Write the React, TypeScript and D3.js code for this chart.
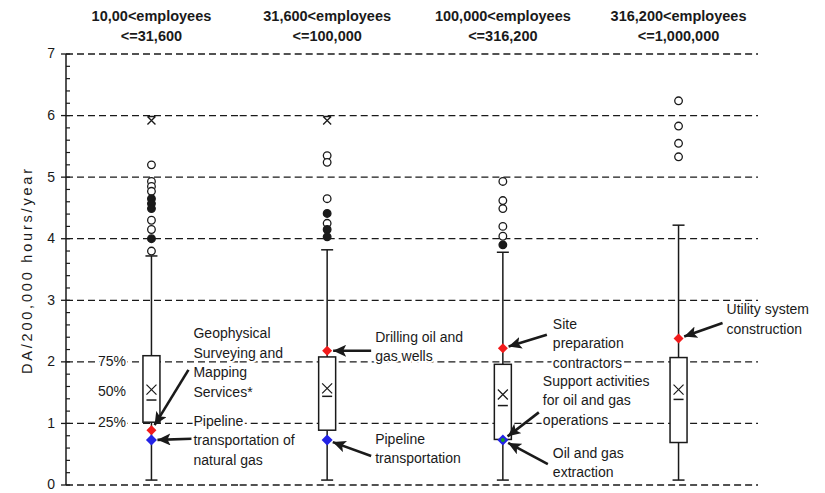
import React, { useEffect, useRef } from 'react';
import * as d3 from 'd3';

// size classes (columns) and their two-line headers
const groups = ["A", "B", "C", "D"];
const headerTop = ["10,00<employees", "31,600<employees", "100,000<employees", "316,200<employees"];
const headerBottom = ["<=31,600", "<=100,000", "<=316,200", "<=1,000,000"];

// box statistics per column (DA / 200,000 hours / year)
const q1 = [1.02, 0.89, 0.74, 0.69];
const q3 = [2.10, 2.08, 1.96, 2.07];
const medians = [1.38, 1.44, 1.29, 1.39];
const means = [1.55, 1.57, 1.47, 1.55];
const whiskerLow = [0.08, 0.08, 0.08, 0.08];
const whiskerHigh = [3.72, 3.82, 3.78, 4.22];

// outliers
const openOutliers = [
  [5.2, 4.93, 4.85, 4.77, 4.30, 4.15, 3.8],
  [5.35, 5.24, 4.65, 4.25],
  [4.93, 4.62, 4.49, 4.2, 4.04],
  [6.24, 5.83, 5.55, 5.33]
];
const filledOutliers = [
  [4.65, 4.57, 4.49, 4.0],
  [4.41, 4.15, 4.03],
  [3.9],
  []
];
const extremes = [5.92, 5.92, null, null];

// highlighted industries
const redPoints = [0.89, 2.18, 2.22, 2.38];
const bluePoints = [0.73, 0.73, 0.73, null];

const yTicks = [0, 1, 2, 3, 4, 5, 6, 7];
const quartileLabels: [string, number][] = [["75%", 2], ["50%", 1.5], ["25%", 1]];

// annotations: text offset from column centre (px) and value of first line,
// arrow start offset (px, value) and which highlighted point it points to
const notes = [
  { col: 0, lines: ["Geophysical", "Surveying and", "Mapping", "Services*"], dx: 42, v: 2.44, from: [37, 1.87], to: "red" },
  { col: 0, lines: ["Pipeline", "transportation of", "natural gas"], dx: 42, v: 1.02, from: [40, 0.75], to: "blue" },
  { col: 1, lines: ["Drilling oil and", "gas wells"], dx: 48, v: 2.39, from: [44, 2.18], to: "red" },
  { col: 1, lines: ["Pipeline", "transportation"], dx: 48, v: 0.73, from: [44, 0.47], to: "blue" },
  { col: 2, lines: ["Site", "preparation", "contractors"], dx: 50, v: 2.60, from: [44, 2.44], to: "red" },
  { col: 2, lines: ["Support activities", "for oil and gas", "operations"], dx: 40, v: 1.67, from: [36, 1.18], to: "blue" },
  { col: 2, lines: ["Oil and gas", "extraction"], dx: 50, v: 0.50, from: [45, 0.34], to: "blue" },
  { col: 3, lines: ["Utility system", "construction"], dx: 48, v: 2.83, from: [44, 2.63], to: "red" }
];

function Chart() {
  const ref = useRef<SVGSVGElement>(null);
  const width = 825;
  const height = 493;

  useEffect(() => {
    const svg = d3.select(ref.current);
    svg.selectAll("*").remove();

    const y = d3.scaleLinear().domain([0, 7]).range([485, 54]);
    const x = d3.scaleBand().domain(groups).range([68, 762]).paddingInner(0.05).paddingOuter(0);
    const cx = (i: number) => (x(groups[i]) as number) + x.bandwidth() / 2;
    const ink = "#1a1a1a";
    const font = "'Liberation Sans', Arial, sans-serif";

    svg.append("defs").append("marker")
      .attr("id", "head")
      .attr("markerUnits", "userSpaceOnUse")
      .attr("markerWidth", 14).attr("markerHeight", 12)
      .attr("refX", 13).attr("refY", 6)
      .attr("orient", "auto")
      .append("path").attr("d", "M0,0 L13,6 L0,12 L3,6 Z").attr("fill", ink);

    // dashed gridlines, one segment per column
    const grid = svg.append("g");
    groups.forEach(g => {
      const x0 = x(g) as number;
      grid.selectAll(null).data(yTicks).join("line")
        .attr("x1", g === groups[0] ? 66 : x0 - 4)
        .attr("x2", x0 + x.bandwidth() + (g === groups[3] ? -4 : 4))
        .attr("y1", d => y(d)).attr("y2", d => y(d))
        .attr("stroke", ink).attr("stroke-width", 1.3)
        .attr("stroke-dasharray", "7 4");
    });

    // y axis
    const ax = svg.append("g");
    ax.append("line").attr("x1", 66).attr("x2", 66).attr("y1", y(0)).attr("y2", y(7))
      .attr("stroke", ink).attr("stroke-width", 1.5);
    ax.selectAll(".minor").data(d3.range(0, 7.01, 0.2)).join("line")
      .attr("x1", 66).attr("x2", 70)
      .attr("y1", d => y(d)).attr("y2", d => y(d))
      .attr("stroke", ink).attr("stroke-width", 1.2);
    ax.selectAll(".major").data(yTicks).join("line")
      .attr("x1", 61).attr("x2", 66)
      .attr("y1", d => y(d)).attr("y2", d => y(d))
      .attr("stroke", ink).attr("stroke-width", 1.3);
    ax.selectAll("text").data(yTicks).join("text")
      .attr("x", 55).attr("y", d => y(d)).attr("dy", "0.32em")
      .attr("text-anchor", "end")
      .attr("font-size", 14).attr("font-family", font).attr("fill", ink)
      .text(d => d);

    svg.append("text")
      .attr("transform", `translate(32,${(y(0) + y(7)) / 2 + 2}) rotate(-90)`)
      .attr("text-anchor", "middle")
      .attr("font-size", 14.5).attr("font-family", font).attr("fill", ink)
      .attr("textLength", 205).attr("lengthAdjust", "spacing")
      .text("DA/200,000 hours/year");

    // headers
    const head = svg.append("g").attr("font-family", font).attr("font-size", 14.5)
      .attr("font-weight", "bold").attr("fill", ink).attr("text-anchor", "middle");
    groups.forEach((g, i) => {
      head.append("text").attr("x", cx(i)).attr("y", 21).text(headerTop[i]);
      head.append("text").attr("x", cx(i)).attr("y", 41).text(headerBottom[i]);
    });

    // text with a white halo so dashes stop behind it
    const halo = (sel: any) => sel
      .attr("font-family", font).attr("font-size", 14).attr("fill", ink)
      .attr("stroke", "white").attr("stroke-width", 4).attr("paint-order", "stroke")
      .attr("dominant-baseline", "middle");

    svg.append("g").selectAll("text").data(quartileLabels).join("text")
      .call(halo)
      .attr("x", 98).attr("y", d => y(d[1]))
      .text(d => d[0]);

    const noteG = svg.append("g");
    notes.forEach(n => {
      n.lines.forEach((l, k) => {
        noteG.append("text").call(halo)
          .attr("x", cx(n.col) + n.dx).attr("y", y(n.v) + k * 19.5)
          .text(l);
      });
    });

    // boxes
    const bw = 17;
    const cap = 12;
    const boxes = svg.append("g").attr("stroke", ink).attr("stroke-width", 1.5);
    groups.forEach((g, i) => {
      const c = cx(i);
      boxes.append("line").attr("x1", c).attr("x2", c).attr("y1", y(whiskerLow[i])).attr("y2", y(q1[i]));
      boxes.append("line").attr("x1", c).attr("x2", c).attr("y1", y(q3[i])).attr("y2", y(whiskerHigh[i]));
      boxes.append("line").attr("x1", c - cap / 2).attr("x2", c + cap / 2).attr("y1", y(whiskerLow[i])).attr("y2", y(whiskerLow[i]));
      boxes.append("line").attr("x1", c - cap / 2).attr("x2", c + cap / 2).attr("y1", y(whiskerHigh[i])).attr("y2", y(whiskerHigh[i]));
      boxes.append("rect").attr("x", c - bw / 2).attr("width", bw)
        .attr("y", y(q3[i])).attr("height", y(q1[i]) - y(q3[i]))
        .attr("fill", "white");
      boxes.append("line").attr("x1", c - 5).attr("x2", c + 5).attr("y1", y(medians[i])).attr("y2", y(medians[i]));
      const m = y(means[i]);
      boxes.append("path").attr("d", `M${c - 5},${m - 5}L${c + 5},${m + 5}M${c - 5},${m + 5}L${c + 5},${m - 5}`)
        .attr("stroke-width", 1.2).attr("fill", "none");

      const e = extremes[i];
      if (e != null) {
        const ey = y(e);
        boxes.append("path").attr("d", `M${c - 4},${ey - 4}L${c + 4},${ey + 4}M${c - 4},${ey + 4}L${c + 4},${ey - 4}M${c - 4},${ey - 4}L${c + 4},${ey - 4}`)
          .attr("stroke-width", 1.3).attr("fill", "none");
      }
      boxes.selectAll(null).data(openOutliers[i]).join("circle")
        .attr("cx", c).attr("cy", d => y(d)).attr("r", 3.8)
        .attr("fill", "white").attr("stroke-width", 1.3);
      boxes.selectAll(null).data(filledOutliers[i]).join("circle")
        .attr("cx", c).attr("cy", d => y(d)).attr("r", 3.8)
        .attr("fill", ink).attr("stroke-width", 1.3);
    });

    // arrows
    const arrows = svg.append("g");
    notes.forEach(n => {
      const v = n.to === "red" ? redPoints[n.col] : bluePoints[n.col];
      if (v == null) return;
      const tx = cx(n.col), ty = y(v);
      const sx = tx + n.from[0], sy = y(n.from[1]);
      const len = Math.hypot(sx - tx, sy - ty);
      const ex = tx + (sx - tx) / len * 6, ey = ty + (sy - ty) / len * 6;
      arrows.append("line")
        .attr("x1", sx).attr("y1", sy).attr("x2", ex).attr("y2", ey)
        .attr("stroke", ink).attr("stroke-width", 2.6)
        .attr("marker-end", "url(#head)");
    });

    // highlighted diamonds
    const dia = (c: number, v: number, r: number) => `M${c},${y(v) - r}L${c + r},${y(v)}L${c},${y(v) + r}L${c - r},${y(v)}Z`;
    const pts = svg.append("g");
    groups.forEach((g, i) => {
      const c = cx(i);
      pts.append("path").attr("d", dia(c, redPoints[i], 5)).attr("fill", "#f21b1b");
      const b = bluePoints[i];
      if (b != null) {
        pts.append("path").attr("d", dia(c, b, 5.5)).attr("fill", "#2323e6");
      }
    });
    // oil and gas extraction sits on the support activities point
    const b3 = bluePoints[2];
    if (b3 != null) pts.append("circle").attr("cx", cx(2)).attr("cy", y(b3)).attr("r", 2).attr("fill", "#12a020");
  }, []);

  return (
    <svg ref={ref} width={width} height={height}
      style={{ position: "absolute", left: 0, top: 0, background: "white" }} />
  );
}

export default function App() {
  return <Chart />;
}
